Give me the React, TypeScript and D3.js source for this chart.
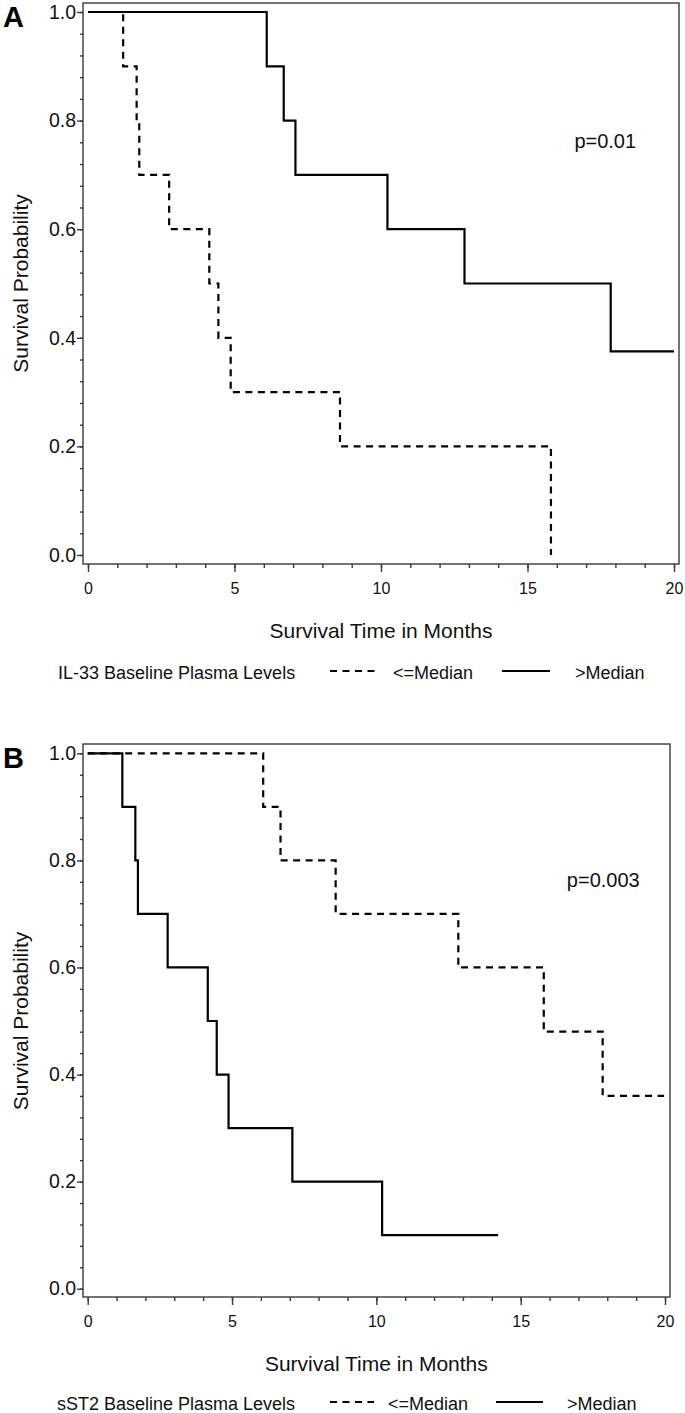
import React, { useEffect, useRef } from "react";
import * as d3 from "d3";

// tick labels
const xTicks = [0, 5, 10, 15, 20];
const yTicks = [0, 0.2, 0.4, 0.6, 0.8, 1.0];

// Panel A: IL-33 (step times in months and survival after each step)
const il33LowTimes = [0, 1.2, 1.66, 1.75, 2.77, 4.14, 4.45, 4.87, 8.6, 15.8];
const il33LowSurv = [1.0, 0.9, 0.8, 0.7, 0.6, 0.5, 0.4, 0.3, 0.2, 0.0];
const il33HighTimes = [0, 6.1, 6.68, 7.08, 10.22, 12.85, 17.84, 20];
const il33HighSurv = [1.0, 0.9, 0.8, 0.7, 0.6, 0.5, 0.375, 0.375];

// Panel B: sST2
const sst2LowTimes = [0, 6.08, 6.68, 8.59, 12.84, 15.8, 17.84, 19.97];
const sst2LowSurv = [1.0, 0.9, 0.8, 0.7, 0.6, 0.48, 0.36, 0.36];
const sst2HighTimes = [0, 1.2, 1.65, 1.74, 2.77, 4.16, 4.47, 4.88, 7.09, 10.2, 14.22];
const sst2HighSurv = [1.0, 0.9, 0.8, 0.7, 0.6, 0.5, 0.4, 0.3, 0.2, 0.1, 0.1];

const groupLabels = ["<=Median", ">Median"];

const FONT = "'Liberation Sans', Arial, Helvetica, sans-serif";
const AXIS_COLOR = "#3a3a3a";
const DASH = "7,5.5";

const zip = (t, s) => t.map((v, i) => [v, s[i]]);

const KMPanel = props => {
  const ref = useRef(null);

  useEffect(() => {
    const g = d3.select(ref.current);
    g.selectAll("*").remove();

    const { frame, xRange, yRange, leg } = props;
    const x = d3.scaleLinear().domain([0, 20]).range(xRange);
    const y = d3.scaleLinear().domain([0, 1]).range(yRange);

    g.append("rect")
      .attr("x", frame.left)
      .attr("y", frame.top)
      .attr("width", frame.right - frame.left)
      .attr("height", frame.bottom - frame.top)
      .attr("fill", "none")
      .attr("stroke", AXIS_COLOR)
      .attr("stroke-width", 1.4);

    const styleAxis = (sel, size) => {
      sel.select(".domain").remove();
      sel.selectAll(".tick line").attr("stroke", AXIS_COLOR).attr("stroke-width", 1.4);
      sel.selectAll(".tick text")
        .attr("fill", "#111")
        .style("font-family", FONT)
        .style("font-size", size + "px");
    };

    // x minor + major
    g.append("g")
      .attr("transform", `translate(0,${frame.bottom})`)
      .call(d3.axisBottom(x).tickValues(d3.range(0, 21)).tickSize(4).tickFormat(() => ""))
      .call(s => styleAxis(s, 16));
    g.append("g")
      .attr("transform", `translate(0,${frame.bottom})`)
      .call(d3.axisBottom(x).tickValues(xTicks).tickSize(8).tickPadding(11).tickFormat(d3.format("d")))
      .call(s => styleAxis(s, 16));

    // y minor + major
    g.append("g")
      .attr("transform", `translate(${frame.left},0)`)
      .call(d3.axisLeft(y).tickValues(d3.range(26).map(i => i * 0.04)).tickSize(3).tickFormat(() => ""))
      .call(s => styleAxis(s, 19.5));
    g.append("g")
      .attr("transform", `translate(${frame.left},0)`)
      .call(d3.axisLeft(y).tickValues(yTicks).tickSize(6).tickPadding(1).tickFormat(d3.format(".1f")))
      .call(s => styleAxis(s, 19.5));

    const line = d3.line()
      .x(d => x(d[0]))
      .y(d => y(d[1]))
      .curve(d3.curveStepAfter);

    g.append("path")
      .attr("d", line(props.high))
      .attr("fill", "none")
      .attr("stroke", "#000")
      .attr("stroke-width", 2.2);

    g.append("path")
      .attr("d", line(props.low))
      .attr("fill", "none")
      .attr("stroke", "#000")
      .attr("stroke-width", 2.2)
      .attr("stroke-dasharray", DASH);

    const text = (tx, ty, str, size, extra) => {
      const t = g.append("text")
        .attr("x", tx)
        .attr("y", ty)
        .attr("fill", "#111")
        .style("font-family", FONT)
        .style("font-size", size + "px")
        .text(str);
      if (extra) extra(t);
      return t;
    };

    // panel letter
    text(3, frame.top + 24, props.label, 29, t => t.style("font-weight", "bold").attr("fill", "#000"));

    // p value
    text(x(16.6), y(0.75), props.pValue, 20);

    // axis titles
    const midX = (xRange[0] + xRange[1]) / 2;
    const midY = (yRange[0] + yRange[1]) / 2;
    text(midX, frame.bottom + 74, "Survival Time in Months", 21, t => t.attr("text-anchor", "middle"));
    text(0, 0, "Survival Probability", 21, t =>
      t.attr("text-anchor", "middle").attr("transform", `translate(28,${midY}) rotate(-90)`)
    );

    // legend
    const ly = frame.bottom + leg.dy;
    text(leg.title, ly, props.legendTitle, 18);
    g.append("line")
      .attr("x1", leg.dash0).attr("x2", leg.dash1)
      .attr("y1", ly - 8).attr("y2", ly - 8)
      .attr("stroke", "#000").attr("stroke-width", 2.2)
      .attr("stroke-dasharray", DASH);
    text(leg.lowText, ly, groupLabels[0], 18);
    g.append("line")
      .attr("x1", leg.solid0).attr("x2", leg.solid1)
      .attr("y1", ly - 8).attr("y2", ly - 8)
      .attr("stroke", "#000").attr("stroke-width", 2.2);
    text(leg.highText, ly, groupLabels[1], 18);
  }, [props]);

  return <g ref={ref} />;
};

const App = () => {
  return (
    <svg
      width={685}
      height={1413}
      style={{ position: "absolute", left: 0, top: 0, background: "#fff" }}
    >
      <KMPanel
        label="A"
        pValue="p=0.01"
        legendTitle="IL-33 Baseline Plasma Levels"
        low={zip(il33LowTimes, il33LowSurv)}
        high={zip(il33HighTimes, il33HighSurv)}
        frame={{ left: 83, right: 679, top: 3, bottom: 564 }}
        xRange={[88, 674]}
        yRange={[555, 12]}
        leg={{ dy: 115, title: 58, dash0: 330, dash1: 378, lowText: 393, solid0: 502, solid1: 550, highText: 575 }}
      />
      <KMPanel
        label="B"
        pValue="p=0.003"
        legendTitle="sST2 Baseline Plasma Levels"
        low={zip(sst2LowTimes, sst2LowSurv)}
        high={zip(sst2HighTimes, sst2HighSurv)}
        frame={{ left: 83, right: 670, top: 744, bottom: 1297 }}
        xRange={[87.7, 665]}
        yRange={[1288.7, 753.3]}
        leg={{ dy: 113, title: 57, dash0: 330, dash1: 374, lowText: 388, solid0: 496, solid1: 543, highText: 567 }}
      />
    </svg>
  );
};

export default App;
